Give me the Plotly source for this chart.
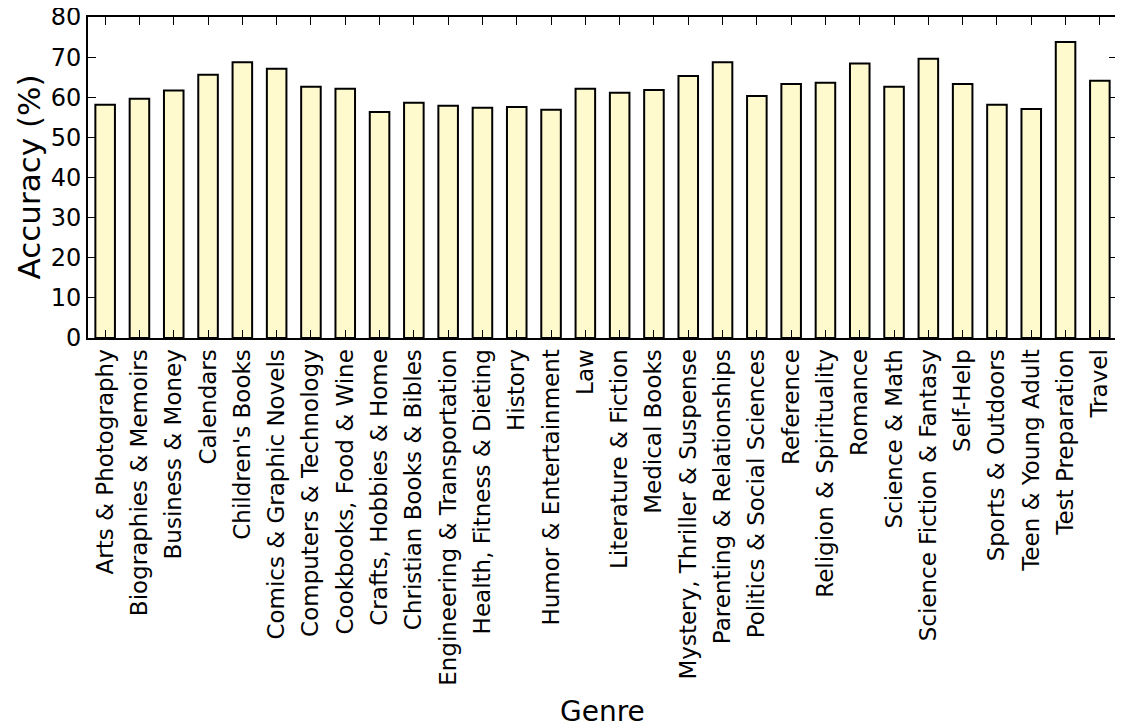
import plotly.graph_objects as go

genres = [
    "Arts & Photography", "Biographies & Memoirs", "Business & Money", "Calendars",
    "Children's Books", "Comics & Graphic Novels", "Computers & Technology",
    "Cookbooks, Food & Wine", "Crafts, Hobbies & Home", "Christian Books & Bibles",
    "Engineering & Transportation", "Health, Fitness & Dieting", "History",
    "Humor & Entertainment", "Law", "Literature & Fiction", "Medical Books",
    "Mystery, Thriller & Suspense", "Parenting & Relationships",
    "Politics & Social Sciences", "Reference", "Religion & Spirituality", "Romance",
    "Science & Math", "Science Fiction & Fantasy", "Self-Help", "Sports & Outdoors",
    "Teen & Young Adult", "Test Preparation", "Travel",
]
accuracy = [
    58.1, 59.6, 61.7, 65.6, 68.7, 67.1, 62.6, 62.1, 56.3, 58.6,
    57.9, 57.4, 57.6, 56.9, 62.1, 61.1, 61.8, 65.3, 68.7, 60.3,
    63.3, 63.6, 68.4, 62.6, 69.6, 63.3, 58.1, 57.1, 73.8, 64.1,
]
y_ticks = [0, 10, 20, 30, 40, 50, 60, 70, 80]

FONT = "DejaVu Sans"

fig = go.Figure(
    go.Bar(
        x=genres,
        y=accuracy,
        marker=dict(color="#FFFACD", line=dict(color="black", width=2)),
        width=0.57,
    )
)

fig.update_layout(
    width=1115,
    height=720,
    margin=dict(l=80, r=6, t=9, b=390, autoexpand=False),
    plot_bgcolor="white",
    paper_bgcolor="white",
    font=dict(family=FONT, color="black"),
    showlegend=False,
    annotations=[
        dict(text="Accuracy (%)", xref="paper", yref="paper", x=0, y=0.5,
             xanchor="center", yanchor="middle", xshift=-60, textangle=-90,
             showarrow=False, font=dict(family=FONT, size=31, color="black")),
        dict(text="Genre", xref="paper", yref="paper", x=0.5, y=0,
             xanchor="center", yanchor="middle", yshift=-373,
             showarrow=False, font=dict(family=FONT, size=28, color="black")),
    ],
)

fig.update_xaxes(
    type="category",
    range=[-0.5, len(genres) - 0.5],
    tickangle=-90,
    tickfont=dict(family=FONT, size=23, color="black"),
    ticks="inside",
    ticklen=8,
    tickwidth=1,
    tickcolor="black",
    showline=True,
    linecolor="black",
    linewidth=2,
    mirror="ticks",
    showgrid=False,
    automargin=False,
)
fig.update_yaxes(
    range=[0, 80],
    tickvals=y_ticks,
    tickfont=dict(family=FONT, size=24, color="black"),
    ticklabeloverflow="allow",
    ticks="inside",
    ticklen=8,
    tickwidth=1,
    tickcolor="black",
    showline=True,
    linecolor="black",
    linewidth=2,
    mirror="ticks",
    showgrid=False,
    zeroline=False,
    automargin=False,
)

fig.write_html("out.html")
